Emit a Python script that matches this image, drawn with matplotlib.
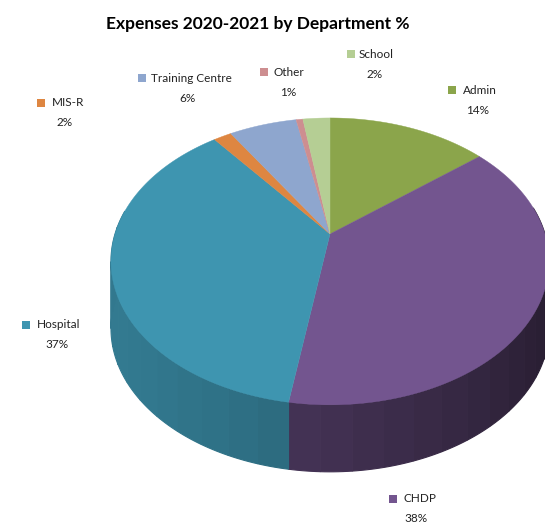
import numpy as np
import matplotlib
matplotlib.use("Agg")
import matplotlib.pyplot as plt
from matplotlib.colors import to_rgb

# data, clockwise from 12 o'clock
departments = ["Admin", "CHDP", "Hospital", "MIS-R", "Training Centre", "Other", "School"]
shares = [14.2, 38.3, 36.9, 1.6, 6.0, 0.6, 2.4]
labels_pct = ["14%", "38%", "37%", "2%", "6%", "1%", "2%"]
colors = ["#8BA54B", "#73558F", "#3E95B0", "#DE8641", "#8EA6CE", "#CD8E90", "#B5CE94"]

# --- layout (image pixels) ---
CX, CY = 330, 234      # apex of the wedges
RX, RY = 215, 138.2
PERSP = 0.191          # tilt of the disc
DEPTH = 67
SIDE_DARK = 0.62

marker_xy = [(452, 90), (393, 499), (26, 325), (41, 103), (142, 78), (264, 72), (351, 54)]
name_x = [463, 403, 37, 52, 151, 274, 359]
pct_xy = [(478, 110), (416, 518), (57, 345), (65, 122), (188, 98), (288, 92), (375, 74)]


def project(theta):
    # theta in radians, clockwise from top
    u, v = np.sin(theta), np.cos(theta)
    w = 1 + PERSP * v
    return CX + RX * u / w, CY - RY * v / w


plt.rcParams["font.family"] = ["Lato", "Liberation Sans", "DejaVu Sans"]

fig = plt.figure(figsize=(5.45, 5.22), dpi=100)
ax = fig.add_axes([0, 0, 1, 1])
ax.set_xlim(0, 545)
ax.set_ylim(522, 0)
ax.axis("off")

edges = np.concatenate([[0], np.cumsum(shares)]) / sum(shares) * 2 * np.pi

# side wall first, in bands so the shading steps like the original
for i, col in enumerate(colors):
    n = max(int((edges[i + 1] - edges[i]) / 0.12), 1)
    t = np.linspace(edges[i], edges[i + 1], n + 1)
    base = np.array(to_rgb(col))
    for a, b in zip(t[:-1], t[1:]):
        mid = (a + b) / 2
        if np.cos(mid) > 0.2:
            continue
        ts = np.linspace(a, b, 8)
        x, y = project(ts)
        # darkest toward the lower right
        shade = SIDE_DARK + 0.20 * np.cos(mid - np.radians(250)) - 0.12 * (np.sin(mid) > 0 or i == 1)
        c = np.clip(base * shade, 0, 1)
        ax.fill(np.r_[x, x[::-1]], np.r_[y, y[::-1] + DEPTH], color=c, lw=0.8, zorder=2)

# top face
for i, col in enumerate(colors):
    t = np.linspace(edges[i], edges[i + 1], 120)
    x, y = project(t)
    ax.fill(np.r_[CX, x], np.r_[CY, y], color=col, lw=0.3, zorder=3)

ax.text(258, 24, "Expenses 2020-2021 by Department %", ha="center", va="center",
        fontsize=12.5, fontweight="bold", color="black")

for i, name in enumerate(departments):
    mx, my = marker_xy[i]
    ax.plot([mx], [my], marker="s", ms=5.5, color=colors[i], mew=0, clip_on=False, zorder=4)
    ax.text(name_x[i], my, name, ha="left", va="center", fontsize=8.5, color="#222222")
    ax.text(pct_xy[i][0], pct_xy[i][1], labels_pct[i], ha="center", va="center",
            fontsize=8.5, color="#222222")

fig.savefig("out.png", dpi=100)
